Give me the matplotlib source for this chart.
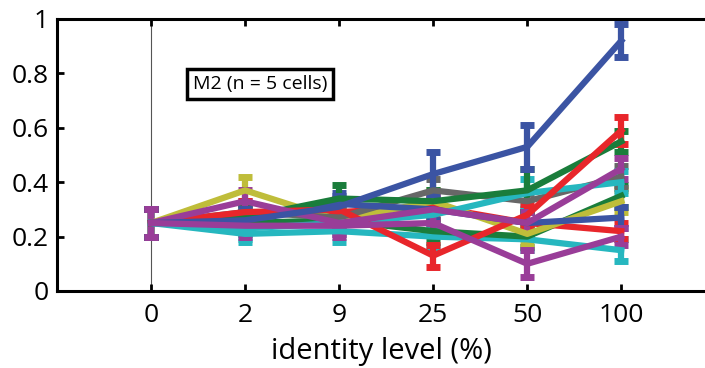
import matplotlib
matplotlib.use("Agg")
import matplotlib.pyplot as plt
import numpy as np

plt.rcParams['font.family'] = ['Open Sans', 'DejaVu Sans']

tick_labels = ["0", "2", "9", "25", "50", "100"]
x_pos = np.arange(len(tick_labels))

colors = {
    "blue": "#3b54a3", "green": "#1a7d3b", "red": "#e8262b", "cyan": "#26b7bf",
    "magenta": "#993d98", "yellow": "#bfbd3a", "gray": "#676767",
}

line_colors = ["cyan", "green", "red", "yellow", "gray", "blue",
               "cyan", "green", "red", "magenta", "blue", "magenta"]

values = [
    [0.25, 0.21, 0.22, 0.20, 0.19, 0.15],   # cyan 2
    [0.25, 0.25, 0.26, 0.22, 0.20, 0.35],   # green 2
    [0.25, 0.28, 0.29, 0.31, 0.25, 0.22],   # red 2
    [0.25, 0.37, 0.26, 0.33, 0.21, 0.33],   # yellow
    [0.25, 0.29, 0.27, 0.37, 0.33, 0.42],   # gray
    [0.25, 0.27, 0.32, 0.30, 0.25, 0.27],   # blue 2
    [0.25, 0.23, 0.25, 0.28, 0.36, 0.40],   # cyan 1
    [0.25, 0.27, 0.34, 0.33, 0.37, 0.55],   # green 1
    [0.25, 0.29, 0.30, 0.13, 0.28, 0.59],   # red 1
    [0.25, 0.33, 0.25, 0.30, 0.25, 0.45],   # magenta 1
    [0.25, 0.26, 0.31, 0.43, 0.53, 0.92],   # blue 1
    [0.25, 0.24, 0.24, 0.25, 0.10, 0.20],   # magenta 2
]

errors = [
    [0.05, 0.03, 0.04, 0.04, 0.04, 0.04],
    [0.05, 0.04, 0.04, 0.04, 0.04, 0.04],
    [0.05, 0.04, 0.04, 0.04, 0.04, 0.03],
    [0.05, 0.05, 0.04, 0.04, 0.04, 0.04],
    [0.05, 0.04, 0.04, 0.04, 0.03, 0.04],
    [0.05, 0.04, 0.04, 0.04, 0.04, 0.04],
    [0.05, 0.04, 0.04, 0.04, 0.05, 0.04],
    [0.05, 0.04, 0.05, 0.04, 0.08, 0.04],
    [0.05, 0.04, 0.04, 0.04, 0.04, 0.05],
    [0.05, 0.04, 0.04, 0.05, 0.04, 0.04],
    [0.05, 0.04, 0.04, 0.08, 0.08, 0.06],
    [0.05, 0.04, 0.04, 0.04, 0.05, 0.03],
]

fig = plt.figure(figsize=(7.05, 3.68), dpi=100)
ax = fig.add_axes([57/705, 77/368, 1 - 57/705, 272/368])

ax.plot([0, 0], [0, 1], color="#555555", lw=0.8, zorder=1)

for c, v, e in zip(line_colors, values, errors):
    ax.errorbar(x_pos, v, yerr=e, color=colors[c], lw=4.5, elinewidth=4.5,
                capsize=5, capthick=5, zorder=3)

ax.set_xlim(-1, 5.89)
ax.set_ylim(0, 1)
ax.set_xticks(x_pos)
ax.set_xticklabels(tick_labels)
ax.set_yticks([0, 0.2, 0.4, 0.6, 0.8, 1])
ax.set_yticklabels(["0", "0.2", "0.4", "0.6", "0.8", "1"])
ax.tick_params(direction="in", length=5, width=2, labelsize=19, top=True)
ax.tick_params(axis="x", pad=9)
ax.tick_params(axis="y", pad=6)
for s in ["left", "bottom", "top"]:
    ax.spines[s].set_linewidth(2.2)
ax.spines["right"].set_visible(False)
ax.set_xlabel("identity level (%)", fontsize=21, labelpad=6)

ax.text(1.16, 0.76, "M2 (n = 5 cells)", fontsize=14, ha="center", va="center",
        bbox=dict(boxstyle="square,pad=0.3", fc="white", ec="black", lw=2.5), zorder=5)

fig.savefig("out.png", dpi=100)
